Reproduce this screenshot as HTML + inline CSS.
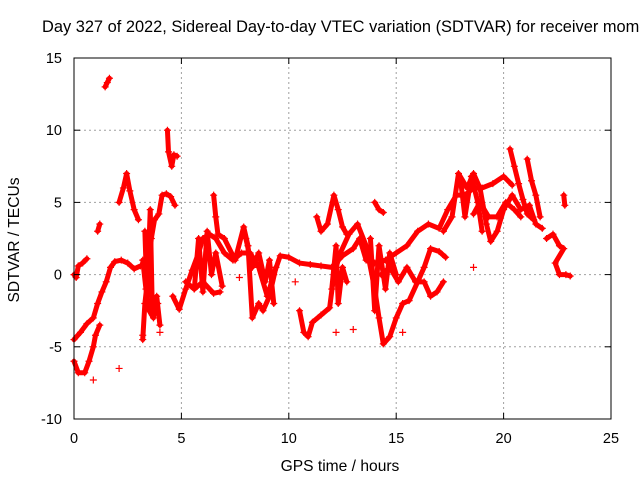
<!DOCTYPE html>
<html><head><meta charset="utf-8"><style>
html,body{margin:0;padding:0;background:#fff;overflow:hidden;}
svg{display:block;font-family:"Liberation Sans",sans-serif;}
</style></head><body>
<svg id="chart" width="640" height="480" viewBox="0 0 640 480">
<rect width="640" height="480" fill="#fff"/>
<text x="42" y="32" font-size="16.4" fill="#000">Day 327 of 2022, Sidereal Day-to-day VTEC variation (SDTVAR) for receiver momo</text>
<g id="grid"></g>
<g id="marks"></g>
<rect x="74" y="58" width="537" height="361" fill="none" stroke="#000" stroke-width="1"/>
<g id="ticks"></g>
<text x="340" y="471" font-size="15.6" text-anchor="middle">GPS time / hours</text>
<text transform="translate(19,240) rotate(-90)" font-size="15.6" text-anchor="middle">SDTVAR / TECUs</text>
</svg>
<script>
const xTicks=[0,5,10,15,20,25];
const yTicks=[-10,-5,0,5,10,15];
const track1=[[0,-4.5],[0.3,-4],[0.6,-3.4],[0.9,-3],[1.1,-2],[1.3,-1.2],[1.5,-0.5],[1.7,0.5],[1.9,0.9],[2.2,1],[2.5,0.8],[2.8,0.4],[3.1,0.6]];
const track2=[[0,-6],[0.2,-6.8],[0.5,-6.8],[0.7,-6],[0.9,-5],[1.0,-4.2],[1.2,-3.5]];
const track3=[[0,0],[0.1,-0.2],[0.2,0.6],[0.4,0.8],[0.6,1.1]];
const track4=[[1.45,13],[1.55,13.3],[1.65,13.6]];
const track5=[[1.1,3],[1.2,3.5]];
const track6=[[2.1,5],[2.3,6],[2.45,7],[2.6,5.8],[2.8,4.5],[3.0,3.8]];
const track7=[[3.2,-4.5],[3.3,-2],[3.45,0],[3.6,2.5],[3.75,3.8],[3.95,4.2],[4.1,5.5],[4.3,5.6],[4.5,5.4],[4.7,4.8]];
const track8=[[4.35,10],[4.4,8.5],[4.55,7.5],[4.65,8.3],[4.8,8.2]];
const track9=[[3.2,1],[3.35,-1],[3.5,-2.5],[3.7,-3],[3.85,-1.5],[4.0,-3.5]];
const track10=[[4.6,-1.5],[4.9,-2.4],[5.2,-1],[5.5,0.3],[5.8,1.5],[6.0,2.5],[6.3,2.8],[6.6,2.5],[7.0,1.5],[7.4,1],[7.8,1.5],[8.2,1.5],[8.6,0.5],[9.0,-1.5],[9.3,0],[9.6,1.3],[10,1.2],[10.5,0.8],[11,0.7],[11.5,0.6],[12,0.5],[12.5,1.3],[13,1.8],[13.3,2.5],[13.6,1],[14,0.8],[14.5,1],[15,1.5],[15.5,2],[16,3],[16.5,3.5],[17,3.2],[17.4,4.5],[17.8,5.5],[18.2,5.5],[18.6,6],[19,6],[19.5,6.3],[20,6.8],[20.4,6.2]];
const track11=[[5.2,-0.5],[5.6,-1],[6.0,-0.5],[6.5,-1.3],[6.8,-1.2]];
const track12=[[6.5,5.5],[6.6,4],[6.7,2.8],[7.0,2.5],[7.5,1],[7.9,3.3],[8.1,2],[8.3,-3],[8.6,-2],[8.8,-2.5],[9.1,-1.5],[9.4,0.5]];
const track13=[[10.5,-2.5],[10.7,-4],[10.9,-4.3],[11.1,-3.3],[11.5,-2.8],[11.9,-2.3],[12.1,0],[12.4,1.5],[12.8,2.8],[13.2,3.5],[13.6,2],[14.0,-1],[14.2,-3],[14.4,-4.8],[14.7,-4.3],[15.0,-3],[15.3,-2],[15.6,-1.8],[16.0,-0.5],[16.3,0.5],[16.6,1.8],[17.0,1.6],[17.3,1.2]];
const track14=[[11.3,4],[11.5,3],[11.8,3.5],[12.1,5.5],[12.3,4.5],[12.5,3.3],[12.7,2.8]];
const track15=[[14.0,5],[14.2,4.5],[14.4,4.3]];
const track16=[[14.3,0],[14.7,0.5],[15.1,-0.5],[15.5,0.5],[15.9,-0.5],[16.3,-0.5],[16.6,-1.5],[16.9,-1.2],[17.2,-0.5]];
const track17=[[17.2,3],[17.6,4],[17.9,7],[18.3,6],[18.6,7],[18.9,6],[19.2,3.5],[19.4,2.3],[19.7,3],[20,4.5],[20.4,5.5],[20.8,4.5],[21.2,4.8],[21.5,3.5],[21.8,3.2]];
const track18=[[20.3,8.7],[20.5,7.5],[20.7,6.3],[20.9,5.2],[21.1,4.2],[21.4,3.8]];
const track19=[[21.1,8],[21.3,6.5],[21.5,5.5],[21.7,4]];
const track20=[[18.6,4.2],[18.9,5],[19.3,4],[19.7,4],[20.1,5],[20.5,4.5],[20.8,4]];
const track21=[[22.0,2.5],[22.3,2.8],[22.6,2],[22.8,1.8],[22.4,0.8],[22.6,0],[22.9,0],[23.1,-0.1]];
const track22=[[22.8,5.5],[22.85,4.8]];
const track23=[[5.6,-1],[5.8,2.5],[6.0,-1.2],[6.2,3],[6.4,0],[6.6,1.5],[6.9,-0.8]];
const track24=[[3.3,3],[3.4,-1.5],[3.55,4.5],[3.65,-2.8],[3.8,-1.8],[3.9,-2]];
const track25=[[8.0,2.5],[8.3,0.5],[8.6,1.5],[8.9,-0.5],[9.1,1],[9.3,-2]];
const track26=[[13.8,2.5],[14.0,-2.5],[14.2,2],[14.5,-1],[14.7,1.5],[15.0,0]];
const track27=[[12.0,-1],[12.2,2],[12.3,-2],[12.5,0.5],[12.7,-0.5]];
const track28=[[18.0,6.5],[18.2,4],[18.5,6.8],[18.8,5],[19.0,3]];
const singles=[[2.1,-6.5],[18.6,0.5],[0.9,-7.3],[4.0,-4],[13,-3.8],[15.3,-4],[3.2,-4.2],[12.2,-4],[7.7,-0.2],[10.3,-0.5]];
const series=[track1,track2,track3,track4,track5,track6,track7,track8,track9,track10,track11,track12,track13,track14,track15,track16,track17,track18,track19,track20,track21,track22,track23,track24,track25,track26,track27,track28];
const X0=74,X1=611,Y0=419,Y1=58,XMIN=0,XMAX=25,YMIN=-10,YMAX=15;
function sx(v){return X0+(v-XMIN)/(XMAX-XMIN)*(X1-X0);}
function sy(v){return Y0-(v-YMIN)/(YMAX-YMIN)*(Y0-Y1);}
const NS="http://www.w3.org/2000/svg";
const grid=document.getElementById('grid'),ticks=document.getElementById('ticks'),marks=document.getElementById('marks');
function mk(tag,attrs,parent){const e=document.createElementNS(NS,tag);for(const k in attrs)e.setAttribute(k,attrs[k]);parent.appendChild(e);return e;}
xTicks.forEach(t=>{const x=sx(t);
 if(t>XMIN&&t<XMAX){const g=mk('line',{x1:x,x2:x,y1:Y0,y2:Y1,stroke:'#a0a0a0','stroke-dasharray':'2,3'},grid);
 
 }
 const a=mk('line',{x1:x,x2:x,y1:Y0,y2:Y0-6,stroke:'#000'},ticks);
 
 
 const b=mk('line',{x1:x,x2:x,y1:Y1,y2:Y1+6,stroke:'#000'},ticks);
 
 
 const l=mk('text',{x:x,y:Y0+24,'font-size':14.5,'text-anchor':'middle'},ticks);l.textContent=t;
 
 });
yTicks.forEach(t=>{const y=sy(t);
 if(t>YMIN&&t<YMAX){const g=mk('line',{x1:X0,x2:X1,y1:y,y2:y,stroke:'#a0a0a0','stroke-dasharray':'2,3'},grid);
 
 }
 const a=mk('line',{x1:X0,x2:X0+6,y1:y,y2:y,stroke:'#000'},ticks);
 
 
 const b=mk('line',{x1:X1,x2:X1-6,y1:y,y2:y,stroke:'#000'},ticks);
 
 
 const l=mk('text',{x:X0-12,y:y+5,'font-size':14.5,'text-anchor':'end'},ticks);l.textContent=t;
 
 });
function plus(p){const x=sx(p[0]),y=sy(p[1]);
 const e=mk('path',{d:`M${x-3.5},${y}H${x+3.5}M${x},${y-3.5}V${y+3.5}`,stroke:'#f00','stroke-width':1.2,fill:'none'},marks);
 
 }
series.forEach(s=>{
 const pl=mk('polyline',{points:s.map(p=>sx(p[0])+','+sy(p[1])).join(' '),fill:'none',stroke:'#f00','stroke-width':5,'stroke-linejoin':'round','stroke-linecap':'round'},marks);
 
 
 s.forEach(plus);});
singles.forEach(plus);
</script>
</body></html>
